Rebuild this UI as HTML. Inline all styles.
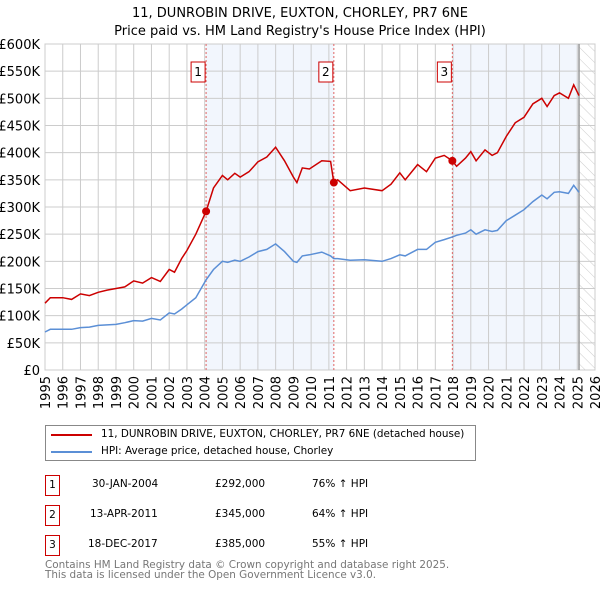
<!DOCTYPE html>
<html><head><meta charset="utf-8"><style>
body{margin:0;background:#fff;font-family:"Liberation Sans","DejaVu Sans",sans-serif;}
svg{display:block}
</style></head><body>
<svg id="c" width="600" height="590" xmlns="http://www.w3.org/2000/svg" font-family="DejaVu Sans, Liberation Sans, sans-serif">
<text x="300" y="17" text-anchor="middle" font-size="13">11, DUNROBIN DRIVE, EUXTON, CHORLEY, PR7 6NE</text>
<text x="300" y="35" text-anchor="middle" font-size="13">Price paid vs. HM Land Registry's House Price Index (HPI)</text>
<defs><pattern id="h" width="8" height="8" patternUnits="userSpaceOnUse" patternTransform="rotate(-45)"><line x1="0" y1="0" x2="0" y2="8" stroke="#ccc" stroke-width="1"/></pattern></defs>
<g id="plot"></g>
</svg>
<script>
const years=[1995,1995.3,1996,1996.5,1997,1997.5,1998,1998.5,1999,1999.5,2000,2000.5,2001,2001.5,2002,2002.3,2002.7,2003,2003.5,2004.08,2004.5,2005,2005.3,2005.7,2006,2006.5,2007,2007.5,2008,2008.5,2009,2009.2,2009.5,2009.9,2010.6,2011.1,2011.28,2011.5,2012.2,2013,2014,2014.5,2015,2015.3,2016,2016.5,2017,2017.5,2017.96,2018.2,2018.7,2019,2019.3,2019.8,2020.2,2020.5,2021,2021.5,2022,2022.5,2023,2023.3,2023.7,2024,2024.5,2024.8,2025.1];
const priceK=[123,133,133,130,140,137,143,147,150,153,164,160,170,163,185,180,205,220,250,292,335,358,350,362,355,365,383,392,410,385,355,345,372,370,385,384,345,350,330,335,330,342,363,350,378,365,390,395,385,375,390,402,385,405,395,400,430,455,465,490,500,485,505,510,500,525,505];
const hpiK=[70,75,75,75,78,79,82,83,84,87,91,90,95,92,105,103,112,120,133,166,185,200,198,202,200,208,218,222,232,218,200,198,210,212,217,210,205,205,202,203,200,205,212,210,222,222,235,240,245,248,252,258,250,258,255,257,275,285,295,310,322,315,327,328,325,340,327];
const sales=[{n:"1",t:2004.08,v:292},{n:"2",t:2011.28,v:345},{n:"3",t:2017.96,v:385}];
const yTicks=[0,50,100,150,200,250,300,350,400,450,500,550,600];
const xTicks=[1995,1996,1997,1998,1999,2000,2001,2002,2003,2004,2005,2006,2007,2008,2009,2010,2011,2012,2013,2014,2015,2016,2017,2018,2019,2020,2021,2022,2023,2024,2025,2026];
const X0=45,X1=595,Y0=370,Y1=44;
const xs=t=>X0+(t-1995)/(2026-1995)*(X1-X0);
const ys=v=>Y0-v/600*(Y0-Y1);
const g=document.getElementById('plot');const NS="http://www.w3.org/2000/svg";
function el(tag,a,txt){const e=document.createElementNS(NS,tag);for(const k in a)e.setAttribute(k,a[k]);if(txt!=null)e.textContent=txt;g.appendChild(e);return e;}
const endT=2025.1;
let s=el('rect',{x:xs(sales[0].t),y:Y1,width:xs(sales[1].t)-xs(sales[0].t),height:Y0-Y1,fill:'#f2f6fd'});


s=el('rect',{x:xs(sales[2].t),y:Y1,width:xs(endT)-xs(sales[2].t),height:Y0-Y1,fill:'#f2f6fd'});


s=el('rect',{x:xs(endT),y:Y1,width:X1-xs(endT),height:Y0-Y1,fill:'url(#h)'});


yTicks.forEach(v=>{let l=el('line',{x1:X0,x2:X1,y1:ys(v),y2:ys(v),stroke:'#ccc'});


let t=el('text',{x:40,y:ys(v)+5,'text-anchor':'end','font-size':13},v===0?'£0':'£'+v+'K');

});
xTicks.forEach(y=>{let l=el('line',{x1:xs(y),x2:xs(y),y1:Y1,y2:Y0,stroke:'#ccc'});


let t=el('text',{x:xs(y)+5,y:Y0+6,'text-anchor':'end','font-size':13,transform:`rotate(-90 ${xs(y)+5} ${Y0+6})`},String(y));

});
let b=el('rect',{x:X0,y:Y1,width:X1-X0,height:Y0-Y1,fill:'none',stroke:'#ccc'});


let vl=el('line',{x1:xs(endT),x2:xs(endT),y1:Y1,y2:Y0,stroke:'#999','stroke-width':1.5});


sales.forEach(d=>{let l=el('line',{x1:xs(d.t),x2:xs(d.t),y1:Y1,y2:Y0,stroke:'#e06666','stroke-dasharray':'2,2'});


let r=el('rect',{x:xs(d.t)-15,y:62,width:14,height:20,fill:'#fff',stroke:'#c00'});


let t=el('text',{x:xs(d.t)-8,y:76,'text-anchor':'middle','font-size':12},d.n);

});
const path=a=>a.map((v,i)=>(i?'L':'M')+xs(years[i]).toFixed(1)+','+ys(v).toFixed(1)).join('');
let hp=el('path',{d:path(hpiK),fill:'none',stroke:'#5b8fd6','stroke-width':1.5});


let pp=el('path',{d:path(priceK),fill:'none',stroke:'#cc0000','stroke-width':1.5});


sales.forEach(d=>{let c=el('circle',{cx:xs(d.t),cy:ys(d.v),r:4,fill:'#cc0000'});

});
</script>
<div style="position:absolute;left:45px;top:425px;width:429px;height:34px;border:1px solid #888;font-family:'DejaVu Sans',sans-serif;font-size:10.4px;white-space:nowrap">
<div style="position:absolute;left:5px;top:8px;width:41px;height:2px;background:#cc0000"></div>
<div style="position:absolute;left:55px;top:2px;white-space:nowrap">11, DUNROBIN DRIVE, EUXTON, CHORLEY, PR7 6NE (detached house)</div>
<div style="position:absolute;left:5px;top:25px;width:41px;height:2px;background:#5b8fd6"></div>
<div style="position:absolute;left:55px;top:19px;white-space:nowrap">HPI: Average price, detached house, Chorley</div>
</div>
<div style="font-family:'DejaVu Sans',sans-serif;font-size:10.5px">
<div style="position:absolute;top:475px;left:45px"><span style="position:absolute;left:0;top:0;width:13px;height:19px;border:1px solid #c00;text-align:center;line-height:19px">1</span><span style="position:absolute;left:47px;top:3px;white-space:nowrap">30-JAN-2004</span><span style="position:absolute;left:170px;top:3px">£292,000</span><span style="position:absolute;left:267px;top:3px;white-space:nowrap">76% ↑ HPI</span></div>
<div style="position:absolute;top:505px;left:45px"><span style="position:absolute;left:0;top:0;width:13px;height:19px;border:1px solid #c00;text-align:center;line-height:19px">2</span><span style="position:absolute;left:45px;top:3px;white-space:nowrap">13-APR-2011</span><span style="position:absolute;left:170px;top:3px">£345,000</span><span style="position:absolute;left:267px;top:3px;white-space:nowrap">64% ↑ HPI</span></div>
<div style="position:absolute;top:535px;left:45px"><span style="position:absolute;left:0;top:0;width:13px;height:19px;border:1px solid #c00;text-align:center;line-height:19px">3</span><span style="position:absolute;left:43px;top:3px;white-space:nowrap">18-DEC-2017</span><span style="position:absolute;left:170px;top:3px">£385,000</span><span style="position:absolute;left:267px;top:3px;white-space:nowrap">55% ↑ HPI</span></div>
</div>
<div style="position:absolute;left:45px;top:560px;font-family:'DejaVu Sans',sans-serif;font-size:10.4px;color:#777;line-height:10px;white-space:nowrap">Contains HM Land Registry data © Crown copyright and database right 2025.<br>This data is licensed under the Open Government Licence v3.0.</div>
</body></html>
